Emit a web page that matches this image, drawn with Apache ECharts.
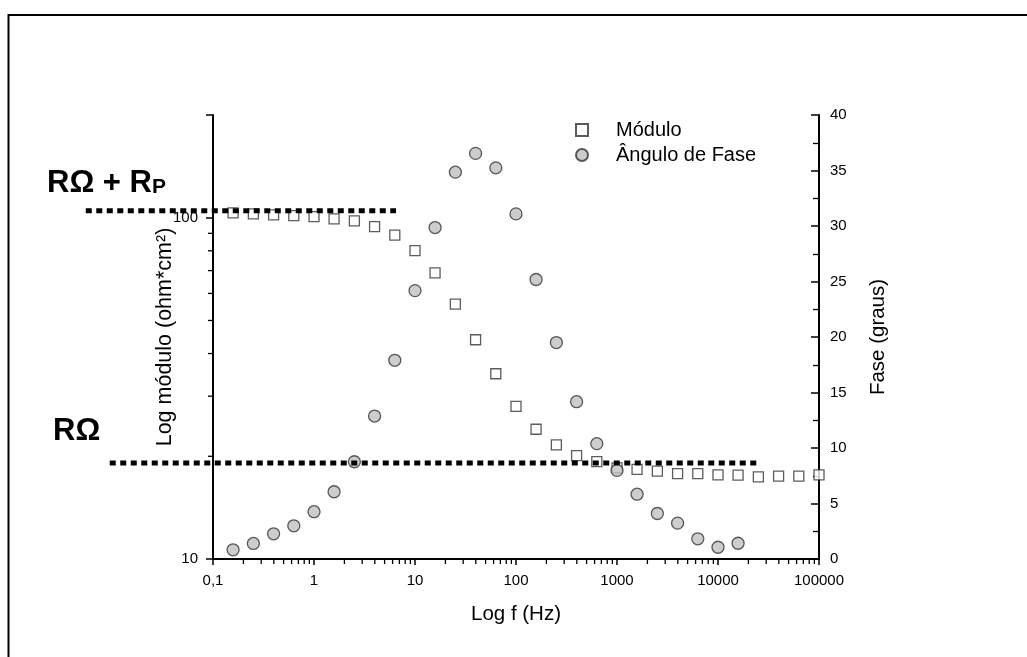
<!DOCTYPE html>
<html>
<head>
<meta charset="utf-8">
<script src="https://cdn.jsdelivr.net/npm/echarts@6.0.0/dist/echarts.min.js"></script>
<style>
    html, body { margin: 0; padding: 0; background: #fff; }
    #chart { width: 1027px; height: 657px; }
</style>
</head>
<body>
<div id="chart"></div>
<script>
    // frequencias (Hz)
    const freq = [0.158, 0.251, 0.398, 0.631, 1, 1.58, 2.51, 3.98, 6.31, 10,
        15.8, 25.1, 39.8, 63.1, 100, 158, 251, 398, 631, 1000,
        1580, 2510, 3980, 6310, 10000, 15800, 25100, 39800, 63100, 100000];
    // modulo (ohm*cm2)
    const modulo = [103.3, 102.6, 101.9, 101.5, 100.8, 99.2, 97.9, 94.2, 88.9, 80.1,
        68.9, 55.8, 43.9, 34.9, 28.0, 24.0, 21.6, 20.1, 19.3, 18.5,
        18.3, 18.1, 17.8, 17.8, 17.65, 17.6, 17.4, 17.5, 17.5, 17.65];
    // angulo de fase (graus), primeiras 26 frequencias
    const fase = [0.83, 1.40, 2.27, 2.99, 4.26, 6.06, 8.76, 12.88, 17.9, 24.18,
        29.86, 34.85, 36.54, 35.24, 31.09, 25.18, 19.5, 14.17, 10.39, 7.98,
        5.84, 4.10, 3.23, 1.82, 1.06, 1.42];

    // linhas pontilhadas R(ohm) e R(ohm)+Rp: [f inicio, f fim, modulo]
    const linhaRp = [0.0055, 6.49, 104.9];
    const linhaR = [0.0095, 24050, 19.1];

    // ticks menores dos eixos log
    const decadas = [0.1, 1, 10, 100, 1000, 10000];
    const mult = [2, 3, 4, 5, 6, 7, 8, 9];
    const xMinor = [];
    decadas.forEach(d => mult.forEach(m => xMinor.push(+(d * m).toPrecision(3))));
    const yMinor = [20, 30, 40, 50, 60, 70, 80, 90];

    const fonte = "'Liberation Sans', Arial, sans-serif";

    let myChart = echarts.init(document.getElementById('chart'));

    function minorX(params, api) {
        let p = api.coord([api.value(0), 10]);
        return {
            type: 'line',
            shape: {x1: p[0], y1: p[1], x2: p[0], y2: p[1] + 5},
            style: {stroke: '#000', lineWidth: 1.3}
        };
    }

    function minorY(params, api) {
        let p = api.coord([0.1, api.value(1)]);
        return {
            type: 'line',
            shape: {x1: p[0], y1: p[1], x2: p[0] - 5, y2: p[1]},
            style: {stroke: '#000', lineWidth: 1.3}
        };
    }

    let graficos = [
        {
            id: 'moldura',
            type: 'rect',
            shape: {x: 8.5, y: 15, width: 1200, height: 800},
            style: {fill: 'none', stroke: '#000', lineWidth: 2},
            silent: true
        },
        {
            id: 'rp',
            type: 'text',
            x: 47,
            y: 183,
            style: {
                text: 'RΩ + R{s|P}',
                fontFamily: fonte,
                fontWeight: 'bold',
                fontSize: 31,
                lineHeight: 30,
                fill: '#000',
                verticalAlign: 'middle',
                rich: {
                    s: {fontSize: 21, fontWeight: 'bold', lineHeight: 14, verticalAlign: 'bottom', fontFamily: fonte}
                }
            }
        },
        {
            id: 'r',
            type: 'text',
            x: 53,
            y: 431,
            style: {
                text: 'RΩ',
                fontFamily: fonte,
                fontWeight: 'bold',
                fontSize: 31,
                fill: '#000',
                verticalAlign: 'middle'
            }
        }
    ];

    myChart.setOption({
        animation: false,
        textStyle: {fontFamily: fonte},
        grid: {
            left: 213,
            right: 208,
            top: 115,
            bottom: 98
        },
        legend: {
            orient: 'vertical',
            left: 570,
            top: 114,
            itemWidth: 12,
            itemHeight: 12,
            itemGap: 3,
            data: ['Módulo', 'Ângulo de Fase'],
            textStyle: {
                fontFamily: fonte,
                fontSize: 20,
                lineHeight: 22,
                padding: [0, 0, 0, 23],
                color: '#000'
            }
        },
        xAxis: {
            type: 'log',
            min: 0.1,
            max: 100000,
            name: 'Log f (Hz)',
            nameLocation: 'middle',
            nameGap: 45,
            nameMoveOverlap: false,
            nameTextStyle: {fontSize: 20.5, color: '#000', fontFamily: fonte},
            axisLine: {lineStyle: {color: '#000', width: 2}},
            axisTick: {length: 6, lineStyle: {color: '#000', width: 1.5}},
            splitLine: {show: false},
            axisLabel: {
                color: '#000',
                fontSize: 15,
                margin: 14,
                formatter: v => String(v).replace('.', ',')
            }
        },
        yAxis: [
            {
                type: 'log',
                min: 10,
                max: 200,
                name: 'Log módulo (ohm*cm²)',
                nameLocation: 'middle',
                nameRotate: 90,
                nameGap: 37,
                nameMoveOverlap: false,
                nameTextStyle: {fontSize: 21.5, color: '#000', fontFamily: fonte},
                axisLine: {show: true, lineStyle: {color: '#000', width: 2}},
                axisTick: {length: 7, lineStyle: {color: '#000', width: 1.5}},
                splitLine: {show: false},
                axisLabel: {
                    color: '#000',
                    fontSize: 15,
                    margin: 15,
                    formatter: v => {
                        let e = Math.log10(v);
                        return Math.abs(e - Math.round(e)) < 1e-6 ? String(Math.round(v)) : '';
                    }
                }
            },
            {
                type: 'value',
                min: 0,
                max: 40,
                interval: 5,
                position: 'right',
                name: 'Fase (graus)',
                nameLocation: 'middle',
                nameRotate: 90,
                nameGap: 49,
                nameMoveOverlap: false,
                nameTextStyle: {fontSize: 20.5, color: '#000', fontFamily: fonte},
                axisLine: {show: true, lineStyle: {color: '#000', width: 2}},
                axisTick: {inside: true, length: 8, lineStyle: {color: '#000', width: 1.5}},
                minorTick: {show: true, splitNumber: 2, length: 6, lineStyle: {color: '#000', width: 1.3}},
                splitLine: {show: false},
                axisLabel: {color: '#000', fontSize: 15, margin: 11}
            }
        ],
        series: [
            {
                name: 'Módulo',
                type: 'scatter',
                symbol: 'rect',
                symbolSize: 10,
                yAxisIndex: 0,
                itemStyle: {color: '#fff', borderColor: '#333', borderWidth: 1.3},
                data: freq.map((f, i) => [f, modulo[i]]),
                z: 3
            },
            {
                name: 'Ângulo de Fase',
                type: 'scatter',
                symbol: 'circle',
                symbolSize: 12,
                yAxisIndex: 1,
                itemStyle: {color: '#c0c0c0', borderColor: '#333', borderWidth: 1.3},
                data: fase.map((v, i) => [freq[i], v]),
                z: 4
            },
            {
                type: 'custom',
                yAxisIndex: 0,
                clip: false,
                silent: true,
                renderItem: minorX,
                data: xMinor.map(v => [v, 10])
            },
            {
                type: 'custom',
                yAxisIndex: 0,
                clip: false,
                silent: true,
                renderItem: minorY,
                data: yMinor.map(v => [0.1, v])
            }
        ],
        graphic: graficos
    });

    // as linhas pontilhadas saem do eixo x, entao a posicao e extrapolada
    // a partir da escala log do proprio eixo
    function pixel(f, v) {
        let a = myChart.convertToPixel({xAxisIndex: 0, yAxisIndex: 0}, [0.1, v]);
        let b = myChart.convertToPixel({xAxisIndex: 0, yAxisIndex: 0}, [1, v]);
        return [a[0] + (b[0] - a[0]) * Math.log10(f / 0.1), a[1]];
    }

    function linha(id, d) {
        let p1 = pixel(d[0], d[2]);
        let p2 = pixel(d[1], d[2]);
        return {
            id: id,
            type: 'line',
            z: 10,
            silent: true,
            shape: {x1: p1[0], y1: p1[1], x2: p2[0], y2: p2[1]},
            style: {stroke: '#000', lineWidth: 5, lineDash: [6, 4.5], lineCap: 'butt'}
        };
    }

    myChart.setOption({
        graphic: graficos.concat([linha('linhaRp', linhaRp), linha('linhaR', linhaR)])
    });
</script>
</body>
</html>
